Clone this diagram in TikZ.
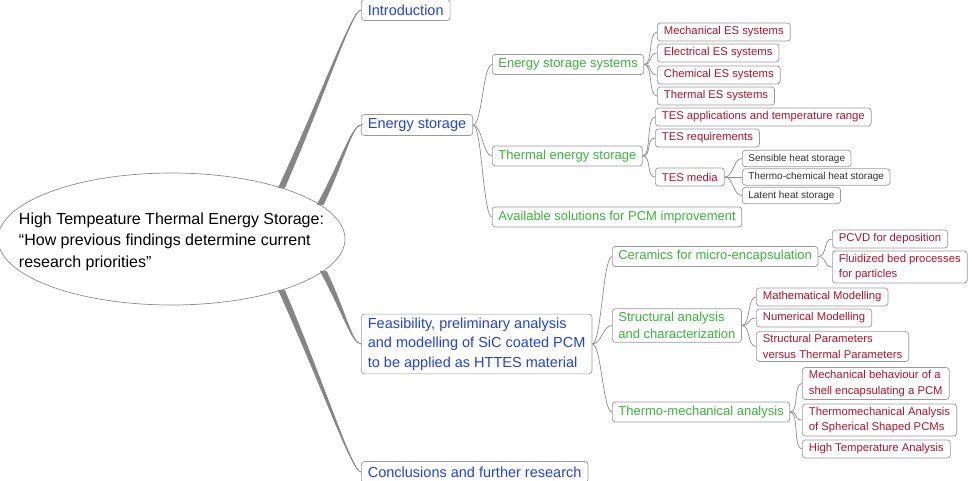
\documentclass[tikz,border=0pt]{standalone}
\usepackage{fontspec}
\setmainfont{Liberation Sans}
\usetikzlibrary{shapes.geometric,calc}

\definecolor{topicblue}{HTML}{2242D8}
\definecolor{subgreen}{HTML}{3BB53B}
\definecolor{leafred}{HTML}{AE142C}
\definecolor{detailgray}{HTML}{333333}
\definecolor{boxgray}{HTML}{9A9A9A}
\definecolor{linegray}{HTML}{8C8C8C}
\definecolor{branchgray}{HTML}{858585}

\tikzset{
  box/.style={draw=boxgray, line width=0.7pt, rounded corners=3pt, fill=white, anchor=west, align=left, inner ysep=3.5pt},
  topic/.style={box, text=topicblue, font=\fontsize{14.5}{19.6}\selectfont, minimum height=21pt, inner xsep=6.5pt},
  sub/.style={box, text=subgreen, font=\fontsize{13}{17}\selectfont, minimum height=20pt, inner xsep=6pt},
  leaf/.style={box, text=leafred, font=\fontsize{11.3}{15.5}\selectfont, minimum height=18pt, inner xsep=6.5pt, inner ysep=3pt},
  detail/.style={box, text=detailgray, font=\fontsize{10}{13}\selectfont, minimum height=15.5pt, inner xsep=6pt},
  conn/.style={draw=linegray, line width=0.7pt},
  branch/.style={fill=branchgray, draw=branchgray, line width=0.8pt}
}

% thick tapered branch from the centre ellipse
\newcommand{\branch}[2]{%
  \filldraw[branch] ($(#1)+(-3,0)$) .. controls ($(#1)!0.55!(#2)+(-1.5,0)$) and ($(#2)+(-9,0)$) .. (#2)
    .. controls ($(#2)+(-9,0)$) and ($(#1)!0.55!(#2)+(1.5,0)$) .. ($(#1)+(3,0)$) -- cycle;}
% thin bracket connector
\newcommand{\link}[2]{\draw[conn] (#1.east) .. controls +(9,0) and +(-9,0) .. (#2.west);}

\begin{document}
\begin{tikzpicture}[x=1pt, y=-1pt]
  \useasboundingbox (0,0) rectangle (972,480);

  % Centre
  \node[draw=linegray, line width=0.7pt, fill=white, ellipse, minimum width=347pt, minimum height=132pt, inner sep=0pt] (root) at (171.5,239) {};
  \node[align=left, font=\fontsize{16}{21.5}\selectfont, inner sep=0pt] (title) at ($(root.center)+(0,2.5)$)
    {High Tempeature Thermal Energy Storage:\\“How previous findings determine current\\research priorities”};

  % Main topics
  \node[topic] (intro) at (361,10) {Introduction};
  \node[topic] (es) at (361,125) {Energy storage};
  \node[topic] (feas) at (361,344) {Feasibility, preliminary analysis\\and modelling of SiC coated PCM\\to be applied as HTTES material};
  \node[topic] (concl) at (361,472) {Conclusions and further research};

  \branch{root.25}{intro.west}
  \branch{root.13.7}{es.west}
  \branch{root.-12.2}{feas.west}
  \branch{root.-25.5}{concl.west}

  % Energy storage
  \node[sub] (ess) at (492,64.5) {Energy storage systems};
  \node[sub] (tes) at (492,156) {Thermal energy storage};
  \node[sub] (avail) at (492,217) {Available solutions for PCM improvement};

  \node[leaf] (mech) at (657,32) {Mechanical ES systems};
  \node[leaf] (elec) at (657,53) {Electrical ES systems};
  \node[leaf] (chem) at (657,75) {Chemical ES systems};
  \node[leaf] (therm) at (657,96) {Thermal ES systems};

  \node[leaf] (tesapp) at (655,117) {TES applications and temperature range};
  \node[leaf] (tesreq) at (655,138) {TES requirements};
  \node[leaf] (tesmed) at (655,177) {TES media};

  \node[detail] (sens) at (742,158.5) {Sensible heat storage};
  \node[detail] (chemheat) at (742,177) {Thermo-chemical heat storage};
  \node[detail] (latent) at (742,195.5) {Latent heat storage};

  \link{es}{ess}
  \link{es}{tes}
  \link{es}{avail}
  \link{ess}{mech}
  \link{ess}{elec}
  \link{ess}{chem}
  \link{ess}{therm}
  \link{tes}{tesapp}
  \link{tes}{tesreq}
  \link{tes}{tesmed}
  \link{tesmed}{sens}
  \link{tesmed}{chemheat}
  \link{tesmed}{latent}

  % Feasibility
  \node[sub] (ceram) at (612,256.5) {Ceramics for micro-encapsulation};
  \node[sub] (struct) at (612,325.5) {Structural analysis\\and characterization};
  \node[sub] (thermo) at (612,412) {Thermo-mechanical analysis};

  \node[leaf] (pcvd) at (832,239) {PCVD for deposition};
  \node[leaf] (fluid) at (832,267) {Fluidized bed processes\\for particles};
  \node[leaf] (math) at (756,297) {Mathematical Modelling};
  \node[leaf] (num) at (756,318) {Numerical Modelling};
  \node[leaf] (param) at (756,346.5) {Structural Parameters\\versus Thermal Parameters};
  \node[leaf] (shell) at (802,383.5) {Mechanical behaviour of a\\shell encapsulating a PCM};
  \node[leaf] (sphere) at (802,420) {Thermomechanical Analysis\\of Spherical Shaped PCMs};
  \node[leaf] (hightemp) at (802,449) {High Temperature Analysis};

  \link{feas}{ceram}
  \link{feas}{struct}
  \link{feas}{thermo}
  \link{ceram}{pcvd}
  \link{ceram}{fluid}
  \link{struct}{math}
  \link{struct}{num}
  \link{struct}{param}
  \link{thermo}{shell}
  \link{thermo}{sphere}
  \link{thermo}{hightemp}
\end{tikzpicture}
\end{document}
